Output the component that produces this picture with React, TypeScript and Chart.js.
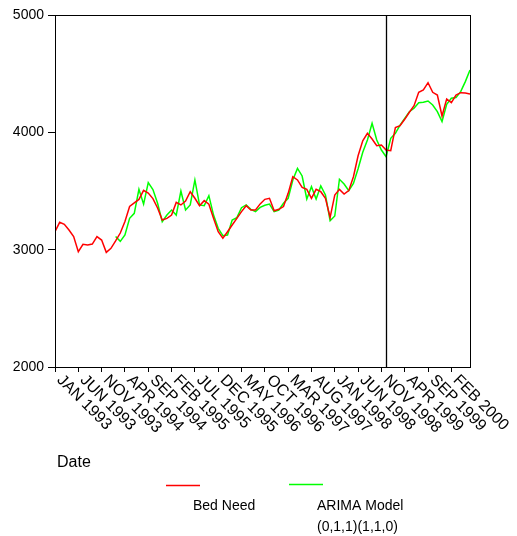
import React, { useEffect, useRef } from "react";
import { Chart, registerables } from "chart.js";

Chart.register(...registerables);

const FONT = "'Liberation Sans', Arial, Helvetica, sans-serif";

// x tick labels, one every 5 months starting at JAN 1993 (index 0)
const tickLabels = [
  "JAN 1993", "JUN 1993", "NOV 1993", "APR 1994", "SEP 1994", "FEB 1995",
  "JUL 1995", "DEC 1995", "MAY 1996", "OCT 1996", "MAR 1997", "AUG 1997",
  "JAN 1998", "JUN 1998", "NOV 1998", "APR 1999", "SEP 1999", "FEB 2000",
];
const tickStep = 5;
const monthCount = 90; // JAN 1993 .. JUN 2000
const forecastStartIndex = 71; // vertical reference line (DEC 1998)

const yTicks = [2000, 3000, 4000, 5000];

const bedNeed = [
  3153, 3233, 3216, 3167, 3111, 2983, 3046, 3040, 3048, 3111,
  3082, 2977, 3011, 3074, 3142, 3240, 3368, 3398, 3428, 3505,
  3482, 3435, 3355, 3253, 3267, 3295, 3403, 3381, 3415, 3494,
  3438, 3375, 3418, 3387, 3267, 3153, 3097, 3153, 3210, 3267,
  3324, 3375, 3338, 3338, 3390, 3429, 3438, 3332, 3344, 3367,
  3480, 3622, 3594, 3531, 3514, 3438, 3514, 3494, 3438, 3276,
  3466, 3514, 3474, 3503, 3622, 3800, 3928, 3991, 3943, 3886,
  3892, 3849, 3844, 4040, 4057, 4111, 4171, 4227, 4341, 4361,
  4423, 4341, 4318, 4139, 4284, 4253, 4318, 4338, 4335, 4327,
];

const arimaModel = [
  null, null, null, null, null, null, null, null, null, null,
  null, null, null, 3113, 3071, 3125, 3267, 3310, 3515, 3388,
  3572, 3512, 3395, 3238, 3295, 3338, 3295, 3500, 3338, 3381,
  3594, 3381, 3375, 3460, 3295, 3182, 3119, 3125, 3253, 3273,
  3358, 3381, 3344, 3324, 3360, 3378, 3389, 3324, 3338, 3395,
  3438, 3594, 3693, 3628, 3432, 3537, 3432, 3543, 3466, 3247,
  3287, 3600, 3560, 3503, 3565, 3690, 3830, 3935, 4077, 3935,
  3849, 3792, 3949, 3991, 4062, 4119, 4176, 4205, 4253, 4256,
  4267, 4233, 4176, 4091, 4239, 4290, 4296, 4347, 4432, 4531,
];

const seriesNames = [["Bed Need"], ["ARIMA Model", "(0,1,1)(1,1,0)"]];
const seriesColors = ["#ff0000", "#00ff00"];
const axisTitle = "Date";

export default function App() {
  const canvasRef = useRef<HTMLCanvasElement>(null);

  useEffect(() => {
    const canvas = canvasRef.current;
    if (!canvas) return;

    const toPoints = (arr: (number | null)[]) =>
      arr.map((v, i) => ({ x: i, y: v }));

    const decorPlugin = {
      id: "decor",
      afterDraw(chart: any) {
        const { ctx, chartArea: ca, scales } = chart;
        const xs = scales.x;
        ctx.save();
        // frame
        ctx.strokeStyle = "#000";
        ctx.lineWidth = 1;
        ctx.strokeRect(
          Math.round(ca.left) + 0.5,
          Math.round(ca.top) + 0.5,
          Math.round(ca.right - ca.left),
          Math.round(ca.bottom - ca.top)
        );
        // reference line
        const vx = Math.round(xs.getPixelForValue(forecastStartIndex)) + 0.5;
        ctx.lineWidth = 1.3;
        ctx.beginPath();
        ctx.moveTo(vx, ca.top);
        ctx.lineTo(vx, ca.bottom);
        ctx.stroke();

        // rotated x tick labels
        ctx.fillStyle = "#000";
        ctx.font = `16px ${FONT}`;
        ctx.textAlign = "left";
        ctx.textBaseline = "top";
        tickLabels.forEach((t, i) => {
          const px = xs.getPixelForValue(i * tickStep);
          ctx.save();
          ctx.translate(px + 10, ca.bottom + 5);
          ctx.rotate(Math.PI / 4);
          ctx.fillText(t, 0, 0);
          ctx.restore();
        });

        // axis title
        ctx.font = `16px ${FONT}`;
        ctx.textBaseline = "alphabetic";
        ctx.fillText(axisTitle, 57, 467);

        // legend
        const legendLineX = [166, 289];
        const legendLineY = [485.5, 484.5];
        const legendTextX = [193, 317];
        ctx.font = `14px ${FONT}`;
        chart.data.datasets.forEach((ds: any, i: number) => {
          ctx.strokeStyle = ds.borderColor;
          ctx.lineWidth = 1.3;
          ctx.beginPath();
          ctx.moveTo(legendLineX[i], legendLineY[i]);
          ctx.lineTo(legendLineX[i] + 34, legendLineY[i]);
          ctx.stroke();
          seriesNames[i].forEach((line, j) => {
            ctx.fillText(line, legendTextX[i], 509.5 + j * 21.5);
          });
        });
        ctx.restore();
      },
    };

    const chart = new Chart(canvas, {
      type: "line",
      data: {
        datasets: [
          {
            label: seriesNames[0].join(" "),
            data: toPoints(bedNeed),
            borderColor: seriesColors[0],
            backgroundColor: seriesColors[0],
            borderWidth: 1.5,
            pointRadius: 0,
            tension: 0,
          },
          {
            label: seriesNames[1].join(" "),
            data: toPoints(arimaModel),
            borderColor: seriesColors[1],
            backgroundColor: seriesColors[1],
            borderWidth: 1.5,
            pointRadius: 0,
            tension: 0,
            spanGaps: false,
          },
        ],
      },
      options: {
        animation: false,
        responsive: false,
        devicePixelRatio: 1,
        layout: { padding: { top: 15, right: 47, left: 0, bottom: 0 } },
        plugins: {
          legend: { display: false },
          tooltip: { enabled: false },
        },
        scales: {
          x: {
            type: "linear",
            min: 0,
            max: monthCount - 1,
            afterBuildTicks: (scale: any) => {
              scale.ticks = tickLabels.map((_, i) => ({ value: i * tickStep }));
            },
            afterFit: (scale: any) => {
              scale.height = 169;
            },
            ticks: { display: false },
            grid: {
              drawOnChartArea: false,
              drawTicks: true,
              tickLength: 5,
              color: "#000",
            },
            border: { display: true, color: "#000", width: 1 },
          },
          y: {
            type: "linear",
            min: yTicks[0],
            max: yTicks[yTicks.length - 1],
            afterBuildTicks: (scale: any) => {
              scale.ticks = yTicks.map((v) => ({ value: v }));
            },
            afterFit: (scale: any) => {
              scale.width = 55;
            },
            ticks: {
              color: "#000",
              font: { family: FONT, size: 14 },
              padding: 4,
              callback: (v: any) => String(v),
            },
            grid: {
              drawOnChartArea: false,
              drawTicks: true,
              tickLength: 7,
              color: "#000",
            },
            border: { display: true, color: "#000", width: 1 },
          },
        },
      },
      plugins: [decorPlugin],
    });

    return () => chart.destroy();
  }, []);

  return (
    <div style={{ position: "fixed", left: 0, top: 0, width: 517, height: 536, background: "#fff" }}>
      <canvas ref={canvasRef} width={517} height={536} style={{ display: "block" }} />
    </div>
  );
}
